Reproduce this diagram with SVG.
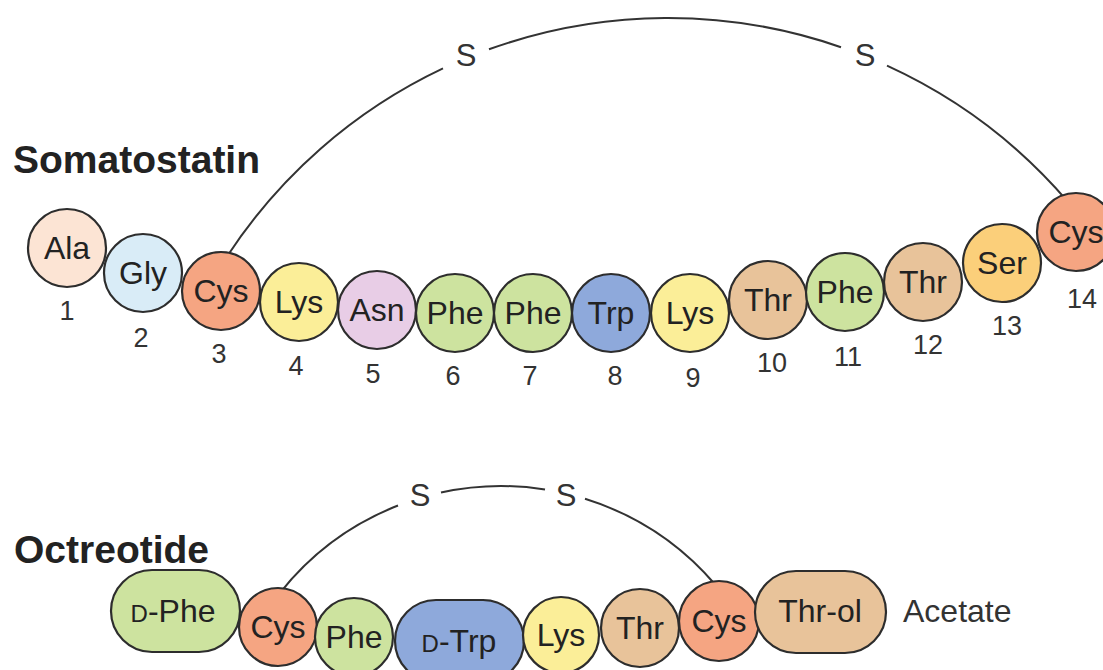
<svg xmlns="http://www.w3.org/2000/svg" width="1103" height="670" viewBox="0 0 1103 670">
<style>
  .bg { fill: #ffffff; }
  .res { stroke: #2d2d2d; stroke-width: 2.2; }
  .ala { fill: #fce4d4; }
  .gly { fill: #d9ecf7; }
  .cys { fill: #f5a582; }
  .lys { fill: #fbee98; }
  .asn { fill: #e8cde6; }
  .phe { fill: #cde39f; }
  .trp { fill: #8ea9db; }
  .thr { fill: #e8c39a; }
  .ser { fill: #fbcf7a; }
  .lbl { font-family: "Liberation Sans", Arial, sans-serif; font-size: 32px; fill: #222; text-anchor: middle; }
  .num { font-family: "Liberation Sans", Arial, sans-serif; font-size: 27px; fill: #333; text-anchor: middle; }
  .title { font-family: "Liberation Sans", Arial, sans-serif; font-size: 39px; font-weight: bold; fill: #222; }
  .s { font-family: "Liberation Sans", Arial, sans-serif; font-size: 31px; fill: #333; text-anchor: middle; }
  .plain { font-family: "Liberation Sans", Arial, sans-serif; font-size: 32px; fill: #333; }
  .bond { fill: none; stroke: #333; stroke-width: 2; }
  .sc { font-size: 24px; }
</style>
<rect class="bg" x="0" y="0" width="1103" height="670"/>

<text class="title" x="13" y="173">Somatostatin</text>
<text class="title" x="14" y="563">Octreotide</text>

<g id="connectors">
  <path class="bond" d="M225,259.6 A527,527 0 0 1 443,68.4"/>
  <path class="bond" d="M489,49.3 A527,527 0 0 1 841,47.2"/>
  <path class="bond" d="M887,65.7 A527,527 0 0 1 1068,201.9"/>
  <path class="bond" d="M280,592.8 A282,282 0 0 1 398,505.5"/>
  <path class="bond" d="M441,492.5 A282,282 0 0 1 545,489.5"/>
  <path class="bond" d="M585,498.8 A282,282 0 0 1 716,585.5"/>
</g>

<g id="disulfide-labels">
  <text class="s" x="466" y="66">S</text>
  <text class="s" x="865" y="66">S</text>
  <text class="s" x="420" y="506">S</text>
  <text class="s" x="566" y="506">S</text>
</g>

<g id="som-1"><circle class="res ala" cx="67" cy="248" r="39"/><text class="lbl" x="67" y="259">Ala</text><text class="num" x="67" y="320">1</text></g>
<g id="som-2"><circle class="res gly" cx="143" cy="273" r="39"/><text class="lbl" x="143" y="284">Gly</text><text class="num" x="141" y="347">2</text></g>
<g id="som-3"><circle class="res cys" cx="221" cy="291" r="39"/><text class="lbl" x="221" y="302">Cys</text><text class="num" x="219" y="363">3</text></g>
<g id="som-4"><circle class="res lys" cx="299" cy="302" r="39"/><text class="lbl" x="299" y="313">Lys</text><text class="num" x="296" y="375">4</text></g>
<g id="som-5"><circle class="res asn" cx="377" cy="310" r="39"/><text class="lbl" x="377" y="321">Asn</text><text class="num" x="373" y="383">5</text></g>
<g id="som-6"><circle class="res phe" cx="455" cy="313" r="39"/><text class="lbl" x="455" y="324">Phe</text><text class="num" x="453" y="385">6</text></g>
<g id="som-7"><circle class="res phe" cx="533" cy="313" r="39"/><text class="lbl" x="533" y="324">Phe</text><text class="num" x="530" y="385">7</text></g>
<g id="som-8"><circle class="res trp" cx="611" cy="313" r="39"/><text class="lbl" x="611" y="324">Trp</text><text class="num" x="615" y="385">8</text></g>
<g id="som-9"><circle class="res lys" cx="690" cy="313" r="39"/><text class="lbl" x="690" y="324">Lys</text><text class="num" x="693" y="387">9</text></g>
<g id="som-10"><circle class="res thr" cx="768" cy="300" r="39"/><text class="lbl" x="768" y="311">Thr</text><text class="num" x="772" y="372">10</text></g>
<g id="som-11"><circle class="res phe" cx="845" cy="292" r="39"/><text class="lbl" x="845" y="303">Phe</text><text class="num" x="848" y="366">11</text></g>
<g id="som-12"><circle class="res thr" cx="923" cy="282" r="39"/><text class="lbl" x="923" y="293">Thr</text><text class="num" x="928" y="354">12</text></g>
<g id="som-13"><circle class="res ser" cx="1002" cy="263" r="39"/><text class="lbl" x="1002" y="274">Ser</text><text class="num" x="1007" y="335">13</text></g>
<g id="som-14"><circle class="res cys" cx="1076" cy="232" r="39"/><text class="lbl" x="1076" y="243">Cys</text><text class="num" x="1082" y="308">14</text></g>

<g id="oct-dphe"><rect class="res phe" x="111" y="570" width="129" height="82" rx="41"/><text class="lbl" x="173" y="622"><tspan class="sc">D</tspan>-Phe</text></g>
<g id="oct-cys1"><circle class="res cys" cx="278" cy="627" r="39"/><text class="lbl" x="278" y="638">Cys</text></g>
<g id="oct-phe"><circle class="res phe" cx="354" cy="637" r="39"/><text class="lbl" x="354" y="648">Phe</text></g>
<g id="oct-dtrp"><rect class="res trp" x="395" y="600" width="129" height="82" rx="41"/><text class="lbl" x="459" y="652"><tspan class="sc">D</tspan>-Trp</text></g>
<g id="oct-lys"><circle class="res lys" cx="561" cy="635" r="38"/><text class="lbl" x="561" y="646">Lys</text></g>
<g id="oct-thr"><circle class="res thr" cx="640" cy="628" r="39"/><text class="lbl" x="640" y="639">Thr</text></g>
<g id="oct-cys2"><circle class="res cys" cx="719" cy="621" r="40"/><text class="lbl" x="719" y="632">Cys</text></g>
<g id="oct-throl"><rect class="res thr" x="755" y="571" width="131" height="82" rx="41"/><text class="lbl" x="820" y="622">Thr-ol</text></g>
<g id="oct-acetate"><text class="plain" x="903" y="622">Acetate</text></g>
</svg>
